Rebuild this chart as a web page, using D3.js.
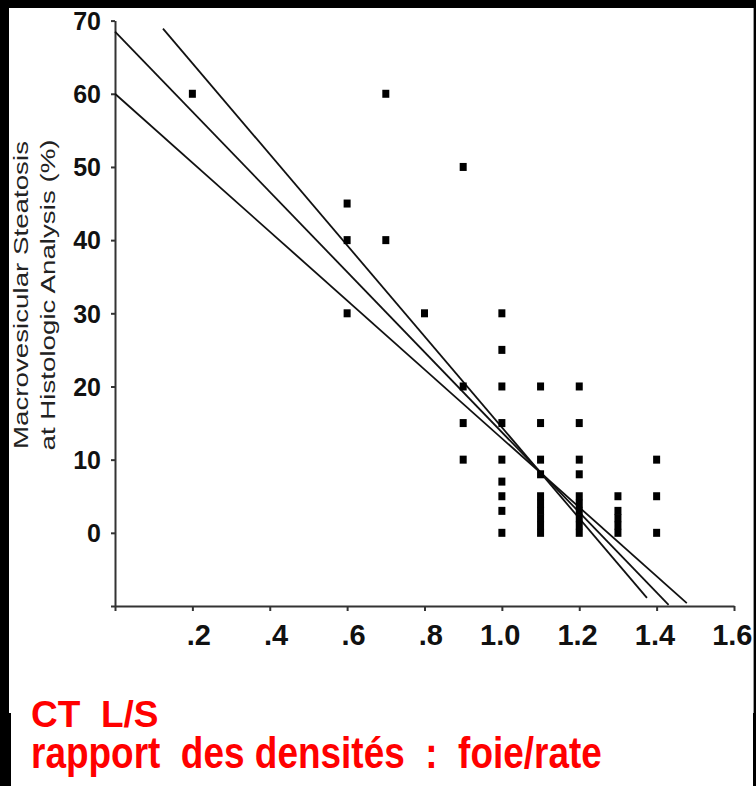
<!DOCTYPE html>
<meta charset="utf-8">
<title>CT L/S - steatose</title>
<script src="https://d3js.org/d3.v7.min.js"></script>
<style>
  body { margin: 0; background: #000; }
  text { font-family: "Liberation Sans", Arial, Helvetica, sans-serif; }
</style>
<body>
</body>
<script>
  width = 756;
  height = 786;

  // CT liver/spleen ratio (x) vs macrovesicular steatosis % (y)
  const ptX = [0.2,
    0.6, 0.6, 0.6,
    0.7, 0.7,
    0.8,
    0.9, 0.9, 0.9, 0.9,
    1.0, 1.0, 1.0, 1.0, 1.0, 1.0, 1.0, 1.0, 1.0,
    1.1, 1.1, 1.1, 1.1, 1.1, 1.1, 1.1, 1.1, 1.1, 1.1,
    1.2, 1.2, 1.2, 1.2, 1.2, 1.2, 1.2, 1.2, 1.2, 1.2,
    1.3, 1.3, 1.3, 1.3, 1.3,
    1.4, 1.4, 1.4];
  const ptY = [60,
    45, 40, 30,
    60, 40,
    30,
    50, 20, 15, 10,
    30, 25, 20, 15, 10, 7, 5, 3, 0,
    20, 15, 10, 8, 5, 4, 3, 2, 1, 0,
    20, 15, 10, 8, 5, 4, 3, 2, 1, 0,
    5, 3, 2, 1, 0,
    10, 5, 0];

  const xTicks = [0, 0.2, 0.4, 0.6, 0.8, 1.0, 1.2, 1.4, 1.6];
  const yTicks = [-10, 0, 10, 20, 30, 40, 50, 60, 70];

  // the three straight lines (start / end in data units)
  const lineX1 = [0, 0, 0.124];
  const lineY1 = [60, 68.5, 68.9];
  const lineX2 = [1.478, 1.431, 1.375];
  const lineY2 = [-9.6, -9.84, -8.9];

  const yTitle = ["Macrovesicular Steatosis", "at Histologic Analysis (%)"];
  const caption = ["CT  L/S", "rapport  des densités  :  foie/rate"];

  const svg = d3.select("body").append("svg").attr("width", width).attr("height", height);

  ////////////////////////// panel //////////////////////////
  svg.append("rect").attr("width", width).attr("height", height).attr("fill", "#000");
  svg.append("rect").attr("x", 9).attr("y", 8).attr("width", 744).attr("height", 705).attr("fill", "#fff");
  svg.append("rect").attr("x", 11).attr("y", 713).attr("width", 742).attr("height", 73).attr("fill", "#fff");
  svg.append("line").attr("x1", 753.5).attr("x2", 753.5).attr("y1", 8).attr("y2", 713)
      .attr("stroke", "#999").attr("stroke-width", 1);

  const x = d3.scaleLinear().domain([0, 1.6]).range([115, 734]);
  const y = d3.scaleLinear().domain([-10, 70]).range([606, 20.6]);

  ////////////////////////// axes //////////////////////////
  const xAxis = svg.append("g")
      .attr("transform", `translate(0,${y(-10)})`)
      .call(d3.axisBottom(x)
        .tickValues(xTicks)
        .tickSize(5)
        .tickSizeOuter(0)
        .tickFormat(d => d === 0 ? "" : d3.format(".1f")(d).replace(/^0/, "")));

  xAxis.selectAll("text")
      .attr("y", 39).attr("dy", 0)
      .attr("x", 18)
      .attr("text-anchor", "end")
      .attr("font-size", 29)
      .attr("font-weight", "bold")
      .attr("fill", "#111");

  const yAxis = svg.append("g")
      .attr("transform", `translate(${x(0)},0)`)
      .call(d3.axisLeft(y)
        .tickValues(yTicks)
        .tickSize(4)
        .tickSizeOuter(0)
        .tickFormat(d => d < 0 ? "" : d));

  yAxis.selectAll("text")
      .attr("x", -14)
      .attr("dy", "0.35em")
      .attr("font-size", 25)
      .attr("font-weight", "bold")
      .attr("fill", "#111");

  svg.selectAll(".domain, .tick line").attr("stroke", "#333").attr("stroke-width", 2);

  svg.append("g")
      .attr("transform", "translate(28,295) rotate(-90) scale(1.32,1)")
      .selectAll("text")
      .data(yTitle)
      .join("text")
      .attr("y", (d, i) => i * 27)
      .attr("text-anchor", "middle")
      .attr("font-size", 21)
      .attr("fill", "#222")
      .text(d => d);

  ////////////////////////// lines //////////////////////////
  svg.append("g")
      .selectAll("line")
      .data(lineX1)
      .join("line")
      .attr("x1", (d, i) => x(lineX1[i]))
      .attr("y1", (d, i) => y(lineY1[i]))
      .attr("x2", (d, i) => x(lineX2[i]))
      .attr("y2", (d, i) => y(lineY2[i]))
      .attr("stroke", "#111")
      .attr("stroke-width", 1.8);

  ////////////////////////// points //////////////////////////
  const sw = 7, sh = 8;
  svg.append("g")
      .selectAll("rect")
      .data(ptX)
      .join("rect")
      .attr("x", (d, i) => x(ptX[i]) - sw / 2)
      .attr("y", (d, i) => y(ptY[i]) - sh / 2)
      .attr("width", sw)
      .attr("height", sh)
      .attr("fill", "#000");

  ////////////////////////// caption //////////////////////////
  // first line plain, second line bigger and squeezed like the slide
  svg.append("g")
      .selectAll("text")
      .data(caption)
      .join("text")
      .attr("transform", (d, i) => i === 0 ? "translate(31,727)" : "translate(31,768) scale(0.84,1)")
      .attr("font-size", (d, i) => i === 0 ? 37 : 44)
      .attr("font-weight", "bold")
      .attr("fill", "#ff0000")
      .style("white-space", "pre")
      .text(d => d);
</script>
